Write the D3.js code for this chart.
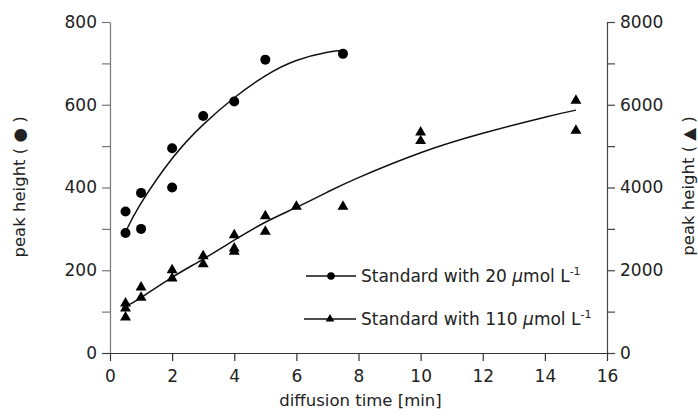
<!DOCTYPE html>
<html>
<head>
<meta charset="utf-8">
<script src="https://cdn.jsdelivr.net/npm/d3@7"></script>
<style>
  body { margin: 0; background: #fff; }
  svg text { font-family: "DejaVu Sans", Verdana, sans-serif; fill: #222; }
</style>
</head>
<body>
<div id="chart"></div>
<script>
// 20 umol standard (left axis, circles)
var circX = [0.5, 0.5, 1, 1, 2, 2, 3, 4, 5, 7.5]
var circY = [342, 290, 387, 300, 495, 400, 573, 608, 709, 723]

// 110 umol standard (right axis, triangles)
var triX = [0.5, 0.5, 0.5, 1, 1, 2, 2, 3, 3, 4, 4, 4, 5, 5, 6, 7.5, 10, 10, 15, 15]
var triY = [1200, 1080, 860, 1590, 1340, 2006, 1805, 2345, 2151, 2852, 2530, 2449, 3311, 2933, 3537, 3537, 5335, 5125, 6100, 5375]

// fitted curves
var fitX1 = [0.5, 1, 2, 3, 4, 5, 6, 7, 7.5]
var fitY1 = [293, 362, 470, 552, 617, 670, 707, 727, 731]
var fitX2 = [0.5, 1, 2, 3, 4, 5, 6, 7, 8, 10, 12, 14, 15]
var fitY2 = [1120, 1340, 1830, 2270, 2730, 3160, 3520, 3890, 4240, 4840, 5310, 5700, 5870]

var xTicks = [0, 2, 4, 6, 8, 10, 12, 14, 16]
var yTicks = [0, 200, 400, 600, 800]
var yMinor = [100, 300, 500, 700]
var y2Ticks = [0, 2000, 4000, 6000, 8000]
var y2Minor = [1000, 3000, 5000, 7000]

var legend = [
  {label: '20', shape: 'circle'},
  {label: '110', shape: 'triangle'}
]

var margin = {left: 110, right: 91, top: 22, bottom: 63}
var W = 698, H = 416
var width = W - margin.left - margin.right
var height = H - margin.top - margin.bottom

var svg = d3.select('#chart').append('svg').attr('width', W).attr('height', H)
var g = svg.append('g').attr('transform', 'translate(' + margin.left + ',' + margin.top + ')')

var x = d3.scaleLinear().domain([0, 16]).range([0, width])
var y = d3.scaleLinear().domain([0, 800]).range([height, 0])
var y2 = d3.scaleLinear().domain([0, 8000]).range([height, 0])

function styleAxis(sel, col){
  sel.select('.domain').attr('stroke', col).attr('stroke-width', 1.2)
  sel.selectAll('.tick line').attr('stroke', col).attr('stroke-width', 1.2)
  sel.selectAll('.tick text').style('font-size', '17px').attr('fill', '#222')
}

// axes
var yAx = g.append('g')
  .call(d3.axisLeft(y).tickValues(yTicks).tickSize(8).tickPadding(5).tickSizeOuter(0))
styleAxis(yAx, '#777')
g.append('g')
  .call(d3.axisLeft(y).tickValues(yMinor).tickSize(8).tickFormat('').tickSizeOuter(0))
  .call(function(s){ s.select('.domain').remove(); s.selectAll('line').attr('stroke', '#777').attr('stroke-width', 1.2) })

var y2Ax = g.append('g').attr('transform', 'translate(' + width + ',0)')
  .call(d3.axisRight(y2).tickValues(y2Ticks).tickFormat(d3.format('d')).tickSize(8).tickPadding(5).tickSizeOuter(0))
styleAxis(y2Ax, '#444')
g.append('g').attr('transform', 'translate(' + width + ',0)')
  .call(d3.axisRight(y2).tickValues(y2Minor).tickSize(8).tickFormat('').tickSizeOuter(0))
  .call(function(s){ s.select('.domain').remove(); s.selectAll('line').attr('stroke', '#444').attr('stroke-width', 1.2) })

var xAx = g.append('g').attr('transform', 'translate(0,' + height + ')')
  .call(d3.axisBottom(x).tickValues(xTicks).tickSize(8).tickPadding(9).tickSizeOuter(0))
styleAxis(xAx, '#333')
xAx.select('.domain').attr('d', 'M-8,0.5H' + width)

// axis titles
svg.append('text')
  .attr('x', margin.left + width / 2 + 2).attr('y', 406)
  .attr('text-anchor', 'middle').style('font-size', '16.5px')
  .text('diffusion time [min]')

svg.append('text')
  .attr('transform', 'translate(25,187) rotate(-90)')
  .attr('text-anchor', 'middle').style('font-size', '16.5px')
  .text('peak height ( \u25CF )')

svg.append('text')
  .attr('transform', 'translate(694,186) rotate(-90)')
  .attr('text-anchor', 'middle').style('font-size', '16.5px')
  .text('peak height ( \u25B2 )')

// fitted curves
var line1 = d3.line().x(function(d){ return x(d[0]) }).y(function(d){ return y(d[1]) }).curve(d3.curveNatural)
var line2 = d3.line().x(function(d){ return x(d[0]) }).y(function(d){ return y2(d[1]) }).curve(d3.curveNatural)

g.append('path').attr('d', line1(d3.zip(fitX1, fitY1)))
  .attr('fill', 'none').attr('stroke', '#111').attr('stroke-width', 1.5)
g.append('path').attr('d', line2(d3.zip(fitX2, fitY2)))
  .attr('fill', 'none').attr('stroke', '#111').attr('stroke-width', 1.5)

// points
g.selectAll('circle.pt').data(d3.zip(circX, circY)).enter().append('circle')
  .attr('class', 'pt')
  .attr('cx', function(d){ return x(d[0]) }).attr('cy', function(d){ return y(d[1]) })
  .attr('r', 5).attr('fill', '#000')

var tri = d3.symbol().type(d3.symbolTriangle).size(52)
g.selectAll('path.tri').data(d3.zip(triX, triY)).enter().append('path')
  .attr('class', 'tri')
  .attr('transform', function(d){ return 'translate(' + x(d[0]) + ',' + y2(d[1]) + ')' })
  .attr('d', tri()).attr('fill', '#000')

// legend
var lg = svg.selectAll('g.leg').data(legend).enter().append('g')
  .attr('class', 'leg')
  .attr('transform', function(d, i){ return 'translate(306,' + (276 + i * 43) + ')' })

lg.append('line').attr('x1', function(d, i){ return i ? -2 : 0 }).attr('x2', 50)
  .attr('stroke', '#111').attr('stroke-width', 1.5)
lg.filter(function(d){ return d.shape == 'circle' }).append('circle')
  .attr('cx', 25).attr('r', 3.8).attr('fill', '#000')
lg.filter(function(d){ return d.shape == 'triangle' }).append('path')
  .attr('transform', 'translate(24,0)').attr('d', d3.symbol().type(d3.symbolTriangle).size(32)()).attr('fill', '#000')

var lt = lg.append('text').attr('x', 55).attr('y', 6).style('font-size', '17px')
lt.append('tspan').text(function(d){ return 'Standard with ' + d.label + ' ' })
lt.append('tspan').style('font-style', 'italic').text('\u03BC')
lt.append('tspan').text('mol L')
lt.append('tspan').attr('dy', -7).style('font-size', '11px').text('-1')
</script>
</body>
</html>
